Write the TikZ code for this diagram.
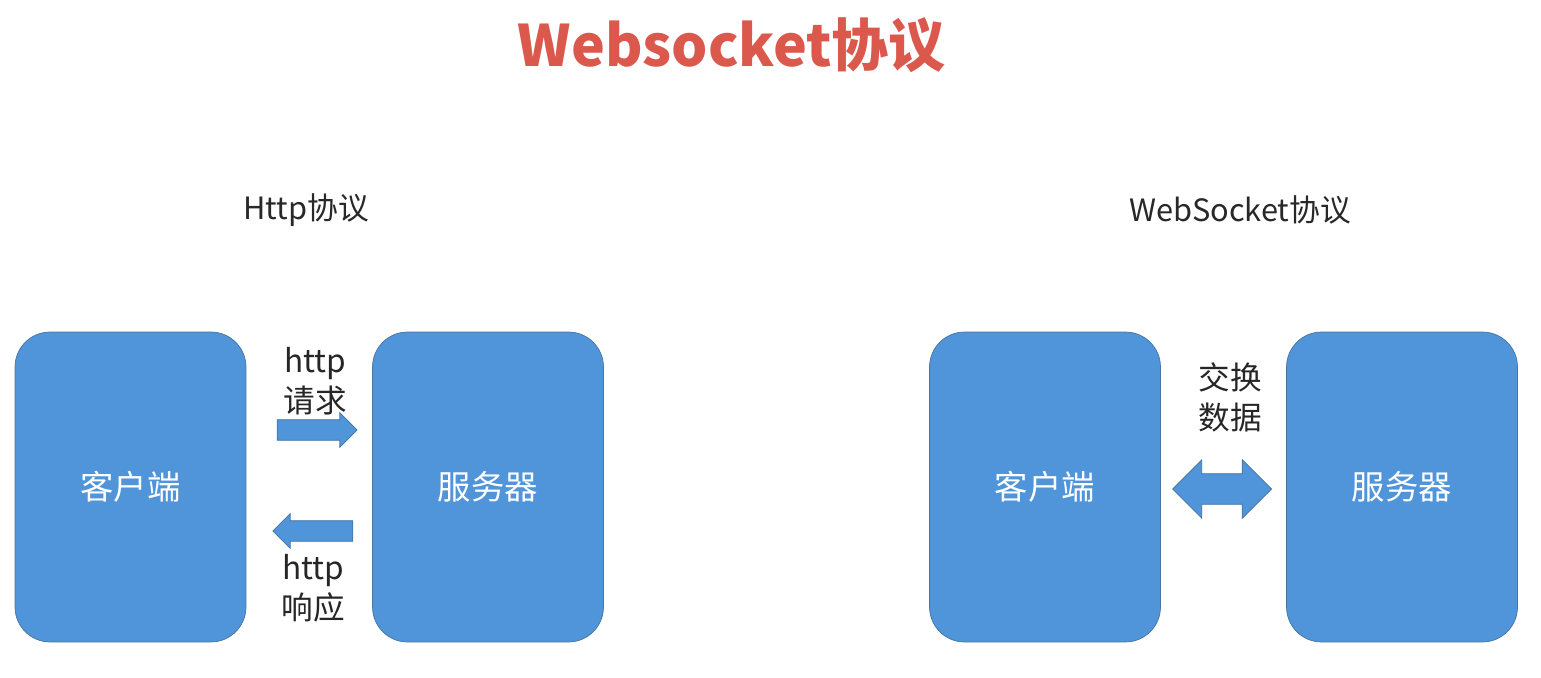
\documentclass[tikz,border=0pt]{standalone}
\usepackage{fontspec}
\setmainfont{Noto Sans CJK SC}
\usetikzlibrary{shapes.arrows}
\definecolor{boxblue}{RGB}{80,148,218}
\definecolor{boxline}{RGB}{70,115,160}
\definecolor{titlered}{RGB}{218,88,76}
\definecolor{textgray}{RGB}{40,40,40}
\tikzset{
    endpoint/.style = {rectangle, rounded corners=0.7cm, minimum width=4.62cm, minimum height=6.2cm, draw=boxline, fill=boxblue, text=white, font=\fontsize{19pt}{22pt}\selectfont},
    caption/.style = {text=textgray, font=\fontsize{17.5pt}{21pt}\selectfont},
    flowlabel/.style = {text=black!85, align=center, font=\fontsize{18pt}{22.7pt}\selectfont},
    onearrow/.style = {single arrow, draw=boxline, fill=boxblue, inner xsep=0pt, inner ysep=0.2cm, minimum width=0.68cm, minimum height=1.6cm, single arrow head extend=0.14cm},
    twoarrow/.style = {double arrow, draw=boxline, fill=boxblue, inner xsep=0pt, inner ysep=0.3cm, minimum width=1.16cm, minimum height=1.98cm, double arrow head extend=0.28cm}
}

\begin{document}
\begin{tikzpicture}[x=0.02cm, y=-0.02cm]
    \useasboundingbox (0, 0) rectangle (1541, 678);

    \node (title) [text=titlered, font=\fontsize{32.5pt}{36pt}\selectfont\bfseries] at (732, 45) {Websocket协议};

    % Http side
    \node (httpcap) [caption] at (306, 210) {Http协议};
    \node (client1) [endpoint] at (130.5, 487) {客户端};
    \node (server1) [endpoint] at (488, 487) {服务器};
    \node (reqtext) [flowlabel] at (315, 381) {http\\请求};
    \node (reqarrow) [onearrow] at (312, 430) {};
    \node (resarrow) [onearrow, shape border rotate=180] at (318, 531) {};
    \node (restext) [flowlabel] at (313, 588) {http\\响应};

    % WebSocket side
    \node (wscap) [caption] at (1240, 210) {WebSocket协议};
    \node (client2) [endpoint] at (1045, 487) {客户端};
    \node (server2) [endpoint] at (1402, 487) {服务器};
    \node (swaptext) [flowlabel] at (1230, 397) {交换\\数据};
    \node (swaparrow) [twoarrow] at (1222, 489) {};
\end{tikzpicture}
\end{document}
